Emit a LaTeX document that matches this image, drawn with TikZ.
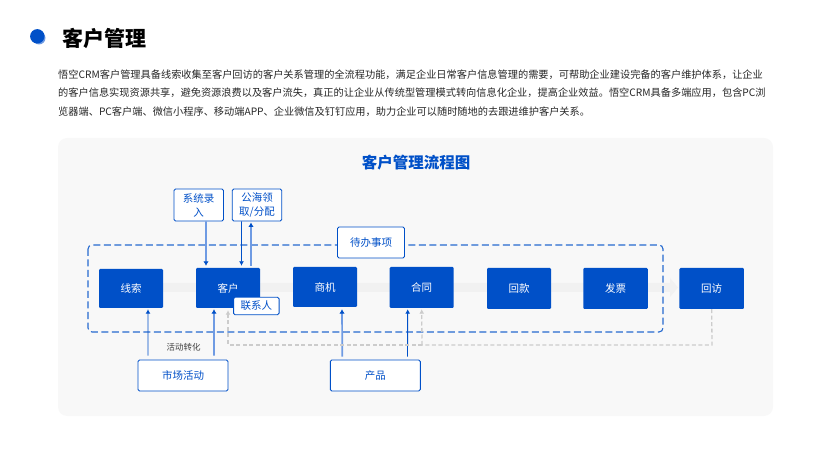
\documentclass[tikz,border=0pt]{standalone}
\usepackage{fontspec}
\setmainfont{Noto Sans CJK SC}
\usetikzlibrary{arrows.meta}
\definecolor{crmblue}{HTML}{0050C8}
\definecolor{crmsoft}{HTML}{6F9BE3}
\definecolor{crmpanel}{HTML}{F8F8F8}
\definecolor{crmband}{HTML}{F1F1F1}
\definecolor{crmgrey}{HTML}{CCCCCC}
\tikzset{
  stagebox/.style={fill=crmblue, text=white, rounded corners=1.2bp, inner sep=0pt, font=\fontsize{10.5bp}{13bp}\selectfont},
  sourcebox/.style={draw=crmblue, fill=white, text=crmblue, line width=0.9bp, rounded corners=1.5bp, inner sep=0pt, align=center, font=\fontsize{10.5bp}{14bp}\selectfont},
  flowline/.style={draw=crmblue, line width=0.9bp, -{Latex[length=4.5bp,width=5bp]}},
  softline/.style={draw=crmsoft, line width=1.7bp, -{Latex[length=4.5bp,width=5.5bp,color=crmblue]}},
  backline/.style={draw=crmgrey, line width=1.3bp, dash pattern=on 4bp off 2.5bp},
}
\begin{document}
\begin{tikzpicture}[x=1bp,y=-1bp]
  \useasboundingbox (0,0) rectangle (820,461);%

  % Drawing title dot
  \fill [crmsoft] (39,38) circle (6.5);%
  \fill [crmblue] (37.3,36.3) circle (7.2);%

  % Marking title
  \node (title) [anchor=west, inner sep=0pt, font=\fontsize{21bp}{24bp}\selectfont\bfseries] at (62,38) {客户管理};%

  % Marking text lines
  \node (lineone) [anchor=west, inner sep=0pt, font=\fontsize{10.2bp}{12bp}\selectfont, text=black!85] at (58,74.5) {悟空CRM客户管理具备线索收集至客户回访的客户关系管理的全流程功能，满足企业日常客户信息管理的需要，可帮助企业建设完备的客户维护体系，让企业};%
  \node (linetwo) [anchor=west, inner sep=0pt, font=\fontsize{10.2bp}{12bp}\selectfont, text=black!85] at (58,93) {的客户信息实现资源共享，避免资源浪费以及客户流失，真正的让企业从传统型管理模式转向信息化企业，提高企业效益。悟空CRM具备多端应用，包含PC浏};%
  \node (linethree) [anchor=west, inner sep=0pt, font=\fontsize{10.2bp}{12bp}\selectfont, text=black!85] at (58,112) {览器端、PC客户端、微信小程序、移动端APP、企业微信及钉钉应用，助力企业可以随时随地的去跟进维护客户关系。};%

  % Drawing panel
  \fill [crmpanel, rounded corners=9bp] (58,138) rectangle (773,416);%
  \node (charttitle) [inner sep=0pt, text=crmblue, font=\fontsize{15.5bp}{18bp}\selectfont\bfseries] at (416,162.5) {客户管理流程图};%

  % Drawing grey band
  \fill [crmband] (163,283) -- (670,283) -- (670,278) -- (678,287.5) -- (670,297) -- (670,292) -- (163,292) -- cycle;%

  % Drawing dashed frame
  \draw [draw=crmblue!85!white, line width=1.1bp, dash pattern=on 7bp off 3.5bp, rounded corners=4bp] (88,245) rectangle (663,332);%

  % Marking stages
  \node (lead) [stagebox, minimum width=64bp, minimum height=39bp] at (131,288.5) {线索};%
  \node (customer) [stagebox, minimum width=64bp, minimum height=40bp] at (228,288) {客户};%
  \node (opportunity) [stagebox, minimum width=64bp, minimum height=40bp] at (325,287) {商机};%
  \node (contract) [stagebox, minimum width=64bp, minimum height=41bp] at (421.7,287.5) {合同};%
  \node (payment) [stagebox, minimum width=64bp, minimum height=41bp] at (519,288.5) {回款};%
  \node (invoice) [stagebox, minimum width=64.5bp, minimum height=41bp] at (615.5,288.5) {发票};%
  \node (revisit) [stagebox, minimum width=64.5bp, minimum height=41bp] at (711.7,288.5) {回访};%

  % Marking source boxes
  \node (manual) [sourcebox, minimum width=49.5bp, minimum height=32bp] at (198.7,205) {系统录\\入};%
  \node (pool) [sourcebox, minimum width=49.5bp, minimum height=32bp] at (257,205) {公海领\\取/分配};%
  \node (todo) [sourcebox, minimum width=67bp, minimum height=31bp] at (371,242.5) {待办事项};%
  \node (contact) [sourcebox, minimum width=45.5bp, minimum height=17.5bp] at (256.3,306) {联系人};%
  \node (market) [sourcebox, minimum width=90bp, minimum height=31bp] at (183,375.5) {市场活动};%
  \node (product) [sourcebox, minimum width=90bp, minimum height=31bp] at (375.3,375.5) {产品};%

  % Drawing lines from top
  \draw [softline] ([xshift=7.3bp]manual.south) -- ([xshift=-22bp,yshift=2bp]customer.north);%
  \draw [flowline] ([xshift=-15.5bp]pool.south) -- ([xshift=13.5bp,yshift=2bp]customer.north);%
  \draw [softline] ([xshift=23bp,yshift=2bp]customer.north) -- ([xshift=-6bp,yshift=-1bp]pool.south);%

  % Drawing lines from bottom
  \draw [flowline] ([xshift=-35bp,yshift=4bp]market.north) -- ([xshift=17bp,yshift=-1bp]lead.south);%
  \draw [softline] ([xshift=31bp,yshift=4bp]market.north) -- ([xshift=-14bp,yshift=-1bp]customer.south);%
  \draw [softline] ([xshift=-33bp,yshift=3bp]product.north) -- ([xshift=17bp,yshift=-2bp]opportunity.south);%
  \draw [flowline] ([xshift=32.2bp,yshift=3bp]product.north) -- ([xshift=-14bp,yshift=-1bp]contract.south);%

  % Drawing return line
  \coordinate (corner) at (712,345);%
  \coordinate (branch) at (422,345);%
  \draw [backline] (revisit.south) -- (corner) -- (branch);%
  \draw [backline, -{Latex[length=4.5bp,width=5bp,color=crmgrey]}] (branch) -- ([yshift=-1bp]contract.south);%
  \draw [backline, -{Latex[length=4.5bp,width=5bp,color=crmgrey]}] (branch) -- (228,345) -- ([yshift=-2bp]customer.south);%

  % Marking label
  \node (convert) [inner sep=0pt, text=black!75, font=\fontsize{8.5bp}{10bp}\selectfont] at (183.5,347) {活动转化};%
\end{tikzpicture}
\end{document}
